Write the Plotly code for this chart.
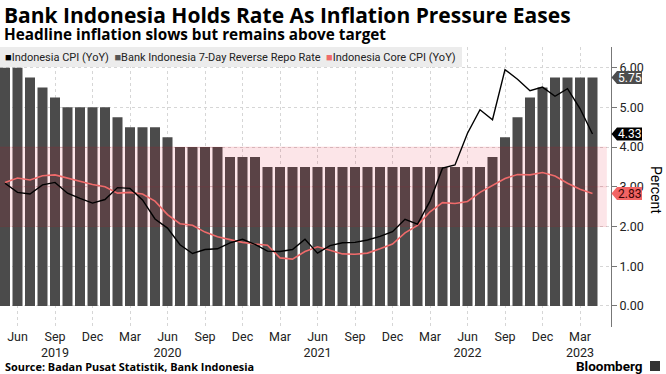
import plotly.graph_objects as go

# ---------------- data ----------------
months = [
    "2019-05", "2019-06", "2019-07", "2019-08", "2019-09", "2019-10", "2019-11", "2019-12",
    "2020-01", "2020-02", "2020-03", "2020-04", "2020-05", "2020-06", "2020-07", "2020-08",
    "2020-09", "2020-10", "2020-11", "2020-12", "2021-01", "2021-02", "2021-03", "2021-04",
    "2021-05", "2021-06", "2021-07", "2021-08", "2021-09", "2021-10", "2021-11", "2021-12",
    "2022-01", "2022-02", "2022-03", "2022-04", "2022-05", "2022-06", "2022-07", "2022-08",
    "2022-09", "2022-10", "2022-11", "2022-12", "2023-01", "2023-02", "2023-03", "2023-04",
]
repo_rate = [
    6.00, 6.00, 5.75, 5.50, 5.25, 5.00, 5.00, 5.00,
    5.00, 4.75, 4.50, 4.50, 4.50, 4.25, 4.00, 4.00,
    4.00, 4.00, 3.75, 3.75, 3.75, 3.50, 3.50, 3.50,
    3.50, 3.50, 3.50, 3.50, 3.50, 3.50, 3.50, 3.50,
    3.50, 3.50, 3.50, 3.50, 3.50, 3.50, 3.50, 3.75,
    4.25, 4.75, 5.25, 5.50, 5.75, 5.75, 5.75, 5.75,
]
headline_cpi = [
    3.09, 2.86, 2.82, 3.05, 3.11, 2.84, 2.71, 2.59,
    2.68, 2.98, 2.96, 2.67, 2.19, 1.96, 1.54, 1.32,
    1.42, 1.44, 1.59, 1.68, 1.55, 1.38, 1.37, 1.42,
    1.68, 1.33, 1.52, 1.59, 1.60, 1.66, 1.75, 1.87,
    2.18, 2.06, 2.64, 3.47, 3.55, 4.35, 4.94, 4.69,
    5.95, 5.71, 5.42, 5.51, 5.28, 5.47, 4.97, 4.33,
]
core_cpi = [
    3.11, 3.22, 3.17, 3.28, 3.30, 3.22, 3.13, 3.06,
    3.00, 2.84, 2.86, 2.82, 2.64, 2.30, 2.07, 2.03,
    1.86, 1.74, 1.67, 1.60, 1.56, 1.53, 1.21, 1.18,
    1.37, 1.49, 1.40, 1.31, 1.30, 1.33, 1.44, 1.56,
    1.84, 2.03, 2.37, 2.60, 2.58, 2.63, 2.86, 3.04,
    3.21, 3.31, 3.30, 3.36, 3.27, 3.09, 2.94, 2.83,
]
tick_months = [
    "2019-06", "2019-09", "2019-12", "2020-03", "2020-06", "2020-09", "2020-12", "2021-03",
    "2021-06", "2021-09", "2021-12", "2022-03", "2022-06", "2022-09", "2022-12", "2023-03",
]
tick_labels = [
    "Jun", "Sep<br>2019", "Dec", "Mar", "Jun<br>2020", "Sep", "Dec", "Mar",
    "Jun<br>2021", "Sep", "Dec", "Mar", "Jun<br>2022", "Sep", "Dec", "Mar<br>2023",
]
target_band = [2.0, 3.0, 4.0]
y_ticks = [0, 1, 2, 3, 4, 5, 6]
series_names = ["Indonesia CPI (YoY)", "Bank Indonesia 7-Day Reverse Repo Rate", "Indonesia Core CPI (YoY)"]

# ---------------- style ----------------
C_CPI = "#000000"
C_REPO = "#4b4b4b"
C_CORE = "#ef6b6b"
FONT = "Roboto"
TFONT = "Open Sans"
W, H = 666, 374
ML, MR, MT, MB = 0, 55, 47, 47
PW, PH = W - ML - MR, H - MT - MB
X_MIN, X_MAX = -0.4, 48.48
BAND_X1 = 48.15
Y_MIN, Y_MAX = -0.53, 6.52


def px_x(px):
    return (px - ML) / PW


def px_y(py):
    return (H - MB - py) / PH


x_idx = list(range(len(months)))
tick_vals = [months.index(m) for m in tick_months]

fig = go.Figure()
fig.add_trace(go.Bar(x=x_idx, y=repo_rate, marker=dict(color=C_REPO, line=dict(width=0)),
                     name=series_names[1], showlegend=False, hoverinfo="skip"))
lo, mid, hi = target_band
fig.add_trace(go.Scatter(x=[X_MIN, BAND_X1, BAND_X1, X_MIN, X_MIN], y=[lo, lo, hi, hi, lo],
                         fill="toself", fillcolor="rgba(230,0,30,0.10)", mode="lines",
                         line=dict(width=0), showlegend=False, hoverinfo="skip"))
fig.add_trace(go.Scatter(x=[X_MIN, BAND_X1, None, X_MIN, BAND_X1, None, X_MIN, BAND_X1],
                         y=[lo, lo, None, mid, mid, None, hi, hi], mode="lines",
                         line=dict(width=1, color="rgba(230,0,30,0.10)"),
                         showlegend=False, hoverinfo="skip"))
fig.add_trace(go.Scatter(x=x_idx, y=core_cpi, mode="lines", line=dict(color=C_CORE, width=1.6),
                         name=series_names[2], showlegend=False))
fig.add_trace(go.Scatter(x=x_idx, y=headline_cpi, mode="lines", line=dict(color=C_CPI, width=1.4),
                         name=series_names[0], showlegend=False))

shapes = []
annotations = []

# legend box
shapes.append(dict(type="rect", xref="paper", yref="paper", x0=0, x1=px_x(462),
                   y0=px_y(67), y1=px_y(47), fillcolor="#ececec", line=dict(width=0), layer="above"))
sq = "<span style='color:{c};font-size:11px'>■</span>"
legend_text = (sq.format(c=C_CPI) + series_names[0] + "  " +
               sq.format(c="#555555") + series_names[1] + "  " +
               sq.format(c=C_CORE) + series_names[2])
annotations.append(dict(text=legend_text, xref="paper", yref="paper", x=px_x(3), y=px_y(57.5),
                        xanchor="left", yanchor="middle", showarrow=False,
                        font=dict(family=FONT, size=11, color="#222")))

# end-value labels
end_labels = [
    (repo_rate[-1], "#4d4d4d", "#ffffff"),
    (headline_cpi[-1], "#000000", "#ffffff"),
    (core_cpi[-1], "#f26464", "#3a0505"),
]
hh = 6.5 / (PH / (Y_MAX - Y_MIN))
for v, bg, fg in end_labels:
    tip, lft, rgt = px_x(611.5), px_x(617), px_x(642)
    path = (f"M {tip},{v} L {lft},{v + hh} L {rgt},{v + hh} L {rgt},{v - hh} "
            f"L {lft},{v - hh} Z")
    shapes.append(dict(type="path", xref="paper", yref="y", path=path, fillcolor=bg,
                       line=dict(width=0), layer="above"))
    annotations.append(dict(text=f"{v:.2f}", xref="paper", yref="y", x=px_x(629.5), y=v,
                            xanchor="center", yanchor="middle", showarrow=False,
                            font=dict(family=FONT, size=12, color=fg)))

# titles
annotations.append(dict(text="<b>Bank Indonesia Holds Rate As Inflation Pressure Eases</b>",
                        xref="paper", yref="paper", x=px_x(2), y=px_y(15), xanchor="left",
                        yanchor="middle", showarrow=False,
                        font=dict(family=TFONT, size=21, color="#000")))
annotations.append(dict(text="<b>Headline inflation slows but remains above target</b>",
                        xref="paper", yref="paper", x=px_x(2), y=px_y(34), xanchor="left",
                        yanchor="middle", showarrow=False,
                        font=dict(family=TFONT, size=15.3, color="#000")))
annotations.append(dict(text="<b>Source: Badan Pusat Statistik, Bank Indonesia</b>",
                        xref="paper", yref="paper", x=px_x(3), y=px_y(366), xanchor="left",
                        yanchor="middle", showarrow=False,
                        font=dict(family=TFONT, size=10.9, color="#000")))
annotations.append(dict(text="<b>Bloomberg</b>", xref="paper", yref="paper", x=px_x(645),
                        y=px_y(366), xanchor="right", yanchor="middle", showarrow=False,
                        font=dict(family=FONT, size=13.5, color="#000")))
shapes.append(dict(type="rect", xref="paper", yref="paper", x0=px_x(650), x1=px_x(660),
                   y0=px_y(371), y1=px_y(361), fillcolor="#333", line=dict(width=0)))
annotations.append(dict(text="Percent", xref="paper", yref="paper", x=px_x(656), y=px_y(190),
                        xanchor="center", yanchor="middle", textangle=90, showarrow=False,
                        font=dict(family=FONT, size=14, color="#000")))

fig.update_layout(
    width=W, height=H, margin=dict(l=ML, r=MR, t=MT, b=MB),
    paper_bgcolor="white", plot_bgcolor="white",
    bargap=0.2, showlegend=False,
    shapes=shapes, annotations=annotations,
    font=dict(family=FONT, size=12, color="#222"),
    xaxis=dict(range=[X_MIN, X_MAX], tickmode="array", tickvals=tick_vals, ticktext=tick_labels,
               showgrid=True, gridcolor="#d6d6d6", griddash="dot", gridwidth=1,
               zeroline=False, showline=False, ticks="", tickfont=dict(size=12.5, color="#222")),
    yaxis=dict(side="right", range=[Y_MIN, Y_MAX], tickmode="array", tickvals=y_ticks,
               tickformat=".2f", showgrid=True, gridcolor="#d6d6d6", griddash="dot",
               zeroline=False, showline=True, linecolor="#777", linewidth=1,
               ticks="outside", ticklen=5, tickcolor="#777",
               tickfont=dict(size=12.5, color="#222")),
)

fig.write_html("out.html", config={"displayModeBar": False},
               post_script="document.body.style.margin='0';document.body.style.padding='0';")
